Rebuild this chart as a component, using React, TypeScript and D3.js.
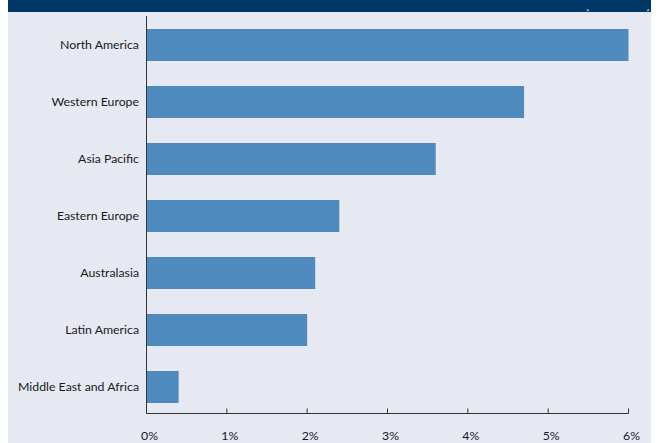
import React from "react";
import * as d3 from "d3";

const categories = [
  "North America",
  "Western Europe",
  "Asia Pacific",
  "Eastern Europe",
  "Australasia",
  "Latin America",
  "Middle East and Africa",
];
const values = [6.0, 4.7, 3.6, 2.4, 2.1, 2.0, 0.4];
const xTicks = [0, 1, 2, 3, 4, 5, 6];
const headerNote = "(2010-15)";

const W = 659;
const H = 443;

export default function App() {
  const x = d3.scaleLinear().domain([0, 6]).range([146.5, 628.5]);
  const y = d3
    .scaleBand<string>()
    .domain(categories)
    .range([29, 403])
    .paddingInner(25 / 57)
    .paddingOuter(0);
  const axisY = 413.5;
  const font = "Lato, 'Open Sans', sans-serif";
  return (
    <div style={{ position: "absolute", left: 0, top: 0 }}>
      <svg width={W} height={H} style={{ display: "block" }}>
        <defs>
          <clipPath id="hdr">
            <rect x={8} y={9.6} width={643} height={2.4} />
          </clipPath>
        </defs>
        <rect x={0} y={0} width={W} height={H} fill="#ffffff" />
        <rect x={8} y={12} width={643} height={H - 12} fill="#e6e8f2" />
        <rect x={8} y={0} width={643} height={12} fill="#003767" />
        <text
          x={618}
          y={8.8}
          textAnchor="middle"
          fill="#ffffff"
          fontFamily={font}
          fontSize={15}
          clipPath="url(#hdr)"
        >
          {headerNote}
        </text>
        {categories.map((c, i) => (
          <g key={c}>
            <rect
              x={x(0)}
              y={y(c)}
              width={x(values[i]) - x(0)}
              height={y.bandwidth()}
              fill="#4f8abf"
            />
            <text
              x={139}
              y={(y(c) as number) + y.bandwidth() / 2}
              dy="0.35em"
              textAnchor="end"
              fontFamily={font}
              fontSize={12.3}
              fill="#1a1a1a"
            >
              {c}
            </text>
          </g>
        ))}
        <line x1={x(0)} x2={x(0)} y1={16} y2={axisY} stroke="#333" strokeWidth={1} />
        <line x1={x(0)} x2={x(6)} y1={axisY} y2={axisY} stroke="#333" strokeWidth={1} />
        {xTicks.map((t) => (
          <g key={t}>
            <line x1={x(t)} x2={x(t)} y1={axisY - 5} y2={axisY} stroke="#333" strokeWidth={1} />
            <text
              x={x(t) + 3}
              y={440}
              textAnchor="middle"
              fontFamily={font}
              fontSize={12.3}
              fill="#1a1a1a"
            >
              {t + "%"}
            </text>
          </g>
        ))}
      </svg>
    </div>
  );
}
